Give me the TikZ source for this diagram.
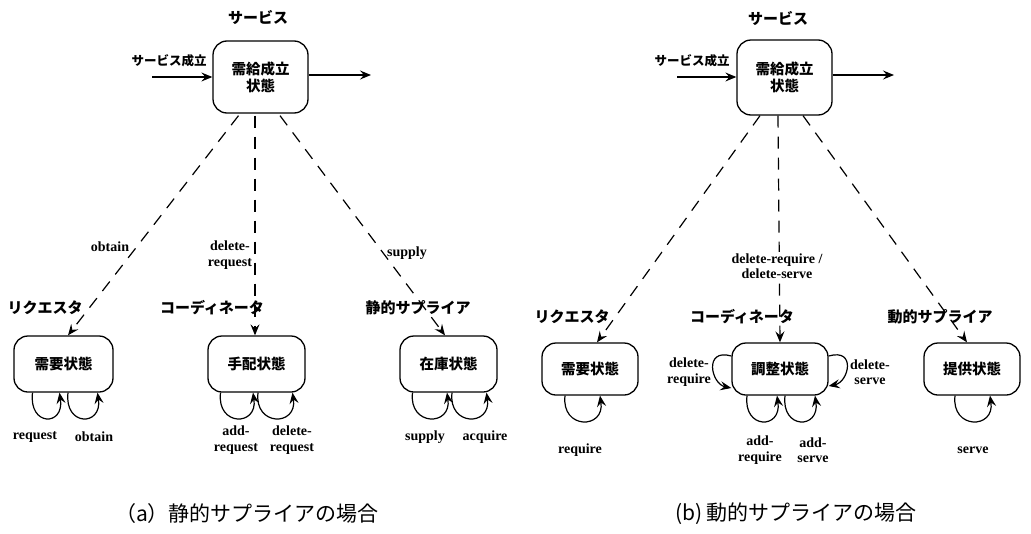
\documentclass[tikz,border=0pt]{standalone}
\usepackage{fontspec}
\setmainfont{Liberation Serif}
\newfontfamily\jp{Noto Sans CJK JP}
\usetikzlibrary{arrows.meta,calc}
\begin{document}
\begin{tikzpicture}[x=1pt,y=-1pt,
  state/.style={draw, line width=1.3pt, rounded corners=14pt, minimum width=96pt, minimum height=56pt, inner sep=0pt, font=\jp\bfseries\fontsize{14.5}{17}\selectfont, align=center},
  arr/.style={line width=1.2pt, -{Stealth[length=11pt,width=9pt,inset=4pt]}},
  dsh/.style={arr, dash pattern=on 12pt off 9pt},
  jlab/.style={font=\jp\bfseries\fontsize{15}{17}\selectfont, inner sep=0pt},
  slab/.style={font=\jp\bfseries\fontsize{12.5}{14}\selectfont, inner sep=0pt},
  elab/.style={font=\bfseries\fontsize{14}{15.5}\selectfont, align=center, inner sep=0pt},
  captext/.style={font=\jp\fontsize{21}{24}\selectfont, inner sep=0pt}]
\useasboundingbox (0,0) rectangle (1031,533);

% ---------------- (a) ----------------
\node[jlab] (svcA) at (258,17) {サービス};
\node[state, minimum width=95pt, minimum height=72pt] (topA) at (260.5,77) {需給成立\\状態};
\node[slab] (estA) at (169,61) {サービス成立};
\coordinate (inA) at (152,77);
\coordinate (outA) at (371,75);
\draw[arr] (inA) -- (inA -| topA.west);
\draw[arr] (topA.east |- outA) -- (outA);

\node[state, minimum width=99pt] (reqA) at (63.5,364) {需要状態};
\node[state, minimum width=97pt] (coA) at (256.5,364) {手配状態};
\node[state, minimum width=97pt] (supA) at (448.5,364) {在庫状態};

\node[jlab] (rolA1) at (45,308) {リクエスタ};
\node[jlab] (rolA2) at (212,308) {コーディネータ};
\node[jlab] (rolA3) at (418,308) {静的サプライア};

\draw[dsh] ($(topA.south)+(-22,2)$) -- ($(reqA.north)+(4.5,0)$);
\draw[dsh] ($(topA.south)+(-5.5,2)$) -- ($(coA.north)+(-1.5,0)$);
\draw[dsh] ($(topA.south)+(19.5,2)$) -- ($(supA.north)+(-3.5,0)$);

\node[elab] (lobt) at (110,247) {obtain};
\node[elab] (ldel) at (230,255) {delete-\\request};
\node[elab] (lsup) at (407,253) {supply};

% loops (a)
\draw[arr] ($(reqA.south)+(-31,0)$) .. controls +(-4,34) and +(5,34) .. ($(reqA.south)+(-4,0)$);
\draw[arr] ($(reqA.south)+(4.5,0)$) .. controls +(-4,34) and +(5,34) .. ($(reqA.south)+(34,0)$);
\draw[arr] ($(coA.south)+(-36,0)$) .. controls +(-4,34) and +(5,34) .. ($(coA.south)+(-3.5,0)$);
\draw[arr] ($(coA.south)+(1.5,0)$) .. controls +(-4,34) and +(5,34) .. ($(coA.south)+(36,0)$);
\draw[arr] ($(supA.south)+(-36,0)$) .. controls +(-4,34) and +(5,34) .. ($(supA.south)+(-1.5,0)$);
\draw[arr] ($(supA.south)+(3.5,0)$) .. controls +(-4,34) and +(5,34) .. ($(supA.south)+(38,0)$);

\node[elab] (l1) at (35,437) {request};
\node[elab] (l2) at (94,437) {obtain};
\node[elab] (l3) at (236,440) {add-\\request};
\node[elab] (l4) at (292,440) {delete-\\request};
\node[elab] (l5) at (425,437) {supply};
\node[elab] (l6) at (485,437) {acquire};

\node[captext] (capA) at (247,514) {（a）静的サプライアの場合};

% ---------------- (b) ----------------
\node[jlab] (svcB) at (778,18) {サービス};
\node[state, minimum width=95pt, minimum height=75pt] (topB) at (784.5,77.5) {需給成立\\状態};
\node[slab] (estB) at (692,61) {サービス成立};
\coordinate (inB) at (677,77);
\coordinate (outB) at (894,75);
\draw[arr] (inB) -- (inB -| topB.west);
\draw[arr] (topB.east |- outB) -- (outB);

\node[state, minimum height=52pt] (reqB) at (590,369) {需要状態};
\node[state, minimum height=52pt] (coB) at (780,369) {調整状態};
\node[state, minimum height=52pt] (supB) at (972,369) {提供状態};

\node[jlab] (rolB1) at (572,317) {リクエスタ};
\node[jlab] (rolB2) at (742,317) {コーディネータ};
\node[jlab] (rolB3) at (940,317) {動的サプライア};

\draw[dsh] ($(topB.south)+(-24.5,0)$) -- ($(reqB.north)+(7,0)$);
\draw[dsh] ($(topB.south)+(-6.5,0)$) -- (coB.north);
\draw[dsh] ($(topB.south)+(18.5,0)$) -- ($(supB.north)+(-5,0)$);

\node[elab, fill=white, inner sep=1pt] (ldr) at (777,266) {delete-require /\\delete-serve};

% loops (b)
\draw[arr] ($(reqB.south)+(-25,0)$) .. controls +(-4,34) and +(5,34) .. ($(reqB.south)+(10,0)$);
\draw[arr] ($(coB.south)+(-33,0)$) .. controls +(-4,34) and +(5,34) .. ($(coB.south)+(-3,0)$);
\draw[arr] ($(coB.south)+(5,0)$) .. controls +(-4,34) and +(5,34) .. ($(coB.south)+(35,0)$);
\draw[arr] ($(supB.south)+(-17,0)$) .. controls +(-4,34) and +(5,34) .. ($(supB.south)+(18,0)$);
\draw[arr] ($(coB.west)+(0,-13)$) .. controls +(-28,-8) and +(-20,-4) .. ($(coB.west)+(0,19)$);
\draw[arr] ($(coB.east)+(0,-13)$) .. controls +(28,-8) and +(20,-4) .. ($(coB.east)+(0,17)$);

\node[elab] (l7) at (580,450) {require};
\node[elab] (l8) at (760,450) {add-\\require};
\node[elab] (l9) at (813,450) {add-\\serve};
\node[elab] (l10) at (973,450) {serve};
\node[elab] (l11) at (689,372) {delete-\\require};
\node[elab] (l12) at (870,372) {delete-\\serve};

\node[captext] (capB) at (796,514) {(b) 動的サプライアの場合};
\end{tikzpicture}
\end{document}
